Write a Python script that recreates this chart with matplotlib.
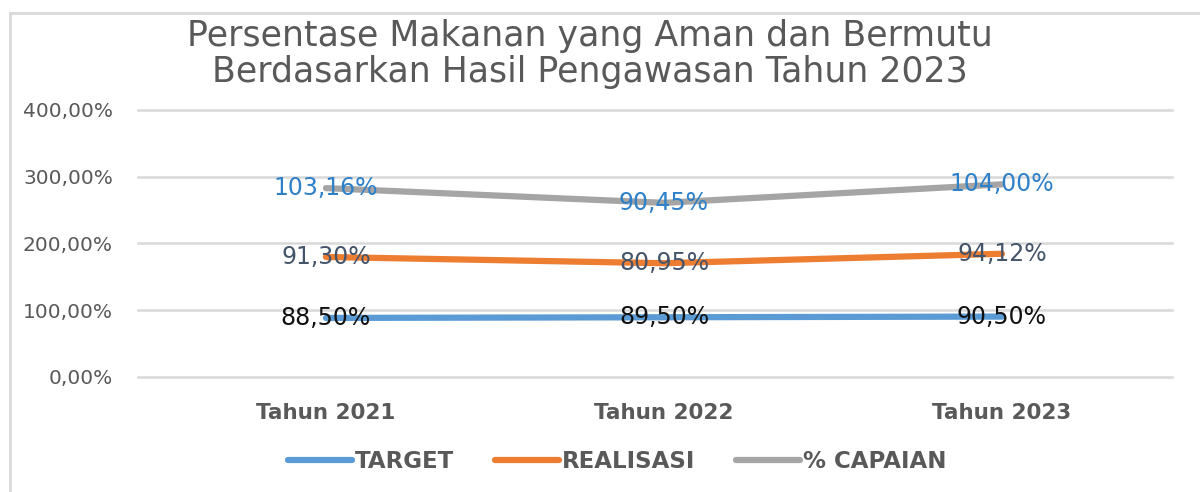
import numpy as np
import matplotlib.pyplot as plt
from matplotlib.lines import Line2D
from matplotlib.ticker import FuncFormatter

plt.rcParams['font.family'] = ['DejaVu Sans']

# data (stacked line chart, like the Excel original)
years = ['Tahun 2021', 'Tahun 2022', 'Tahun 2023']
target = [88.50, 89.50, 90.50]
realisasi = [91.30, 80.95, 94.12]
capaian = [103.16, 90.45, 104.00]
series_names = ['TARGET', 'REALISASI', '% CAPAIAN']

line_colors = ['#5B9BD5', '#ED7D31', '#A5A5A5']
label_colors = ['#111111', '#44546A', '#2E80C8']
grey = '#595959'

fig = plt.figure(figsize=(12, 4.92), dpi=100)
ax = fig.add_axes([138/1200, 1 - 377/492, (1172 - 138)/1200, (377 - 110)/492])

x = np.arange(len(years))
values = [target, realisasi, capaian]
stacked = np.cumsum(np.array(values), axis=0)

for name, vals, tops, lc, tc in zip(series_names, values, stacked, line_colors, label_colors):
    ax.plot(x, tops, color=lc, lw=4.5, solid_capstyle='round', label=name, zorder=3)
    for xi, v, t in zip(x, vals, tops):
        ax.text(xi, t, f'{v:.2f}%'.replace('.', ','), ha='center', va='center',
                color=tc, fontsize=17, zorder=4)

ax.set_ylim(0, 400)
ax.set_yticks([0, 100, 200, 300, 400])
ax.yaxis.set_major_formatter(FuncFormatter(lambda v, p: f'{v:.2f}%'.replace('.', ',')))
ax.set_xlim(-0.556, 2.503)
ax.set_xticks(x)
ax.set_xticklabels(years, fontweight='bold', fontsize=15.5, color=grey)
ax.tick_params(axis='y', length=0, labelsize=14.5, labelcolor=grey, pad=18)
ax.tick_params(axis='x', length=0, pad=19)
ax.grid(axis='y', color='#D9D9D9', lw=1.8)
for gl in ax.get_ygridlines():
    gl.set_clip_on(False)
ax.set_axisbelow(True)
for s in ax.spines.values():
    s.set_visible(False)

# title
fig.text(590/1200, 1 - 46/492, 'Persentase Makanan yang Aman dan Bermutu',
         ha='center', va='baseline', fontsize=25, color=grey)
fig.text(590/1200, 1 - 82/492, 'Berdasarkan Hasil Pengawasan Tahun 2023',
         ha='center', va='baseline', fontsize=25, color=grey)

# legend
leg = fig.legend(loc='center', bbox_to_anchor=(617/1200, 1 - 462/492), ncol=3,
                 frameon=False, handlelength=2.8, handletextpad=0.1, columnspacing=1.8,
                 prop={'weight': 'bold', 'size': 16.5})
for t in leg.get_texts():
    t.set_color(grey)

# chart frame (left and top edge visible)
fig.add_artist(Line2D([10/1200, 10/1200], [0, 1 - 13/492], color='#D9D9D9', lw=2))
fig.add_artist(Line2D([10/1200, 1], [1 - 13/492, 1 - 13/492], color='#D9D9D9', lw=2))

fig.savefig('out.png', dpi=100)
